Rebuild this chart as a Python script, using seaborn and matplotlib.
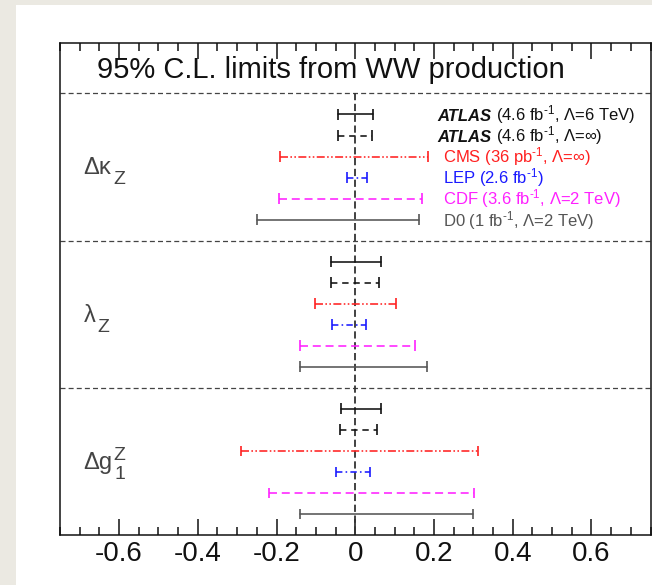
import numpy as np
import pandas as pd
import matplotlib
matplotlib.use("Agg")
import matplotlib.pyplot as plt
import matplotlib.patches as mpatches
from matplotlib.transforms import IdentityTransform
from matplotlib.ticker import FixedLocator, MultipleLocator
import seaborn as sns

# ---- data ----
param_main = ['Δκ', 'λ', 'Δg']
param_sub = ['Z', 'Z', '1']
param_sup = ['', '', 'Z']
sources = ['ATLAS6', 'ATLASinf', 'CMS', 'LEP', 'CDF', 'D0']
legend_bold = ['ATLAS', 'ATLAS', '', '', '', '']
legend_rest = [r'(4.6 fb$^{\text{-1}}$, Λ=6 TeV)', r'(4.6 fb$^{\text{-1}}$, Λ=∞)',
               r'CMS (36 pb$^{\text{-1}}$, Λ=∞)', r'LEP (2.6 fb$^{\text{-1}}$)',
               r'CDF (3.6 fb$^{\text{-1}}$, Λ=2 TeV)', r'D0 (1 fb$^{\text{-1}}$, Λ=2 TeV)']

dkz_lo = [-0.043, -0.045, -0.191, -0.022, -0.193, -0.250]
dkz_hi = [0.046, 0.043, 0.185, 0.031, 0.170, 0.163]
lz_lo = [-0.062, -0.062, -0.103, -0.058, -0.140, -0.140]
lz_hi = [0.065, 0.061, 0.103, 0.027, 0.152, 0.181]
dg1z_lo = [-0.035, -0.039, -0.289, -0.050, -0.219, -0.140]
dg1z_hi = [0.065, 0.054, 0.311, 0.037, 0.301, 0.300]

xtick_vals = [-0.6, -0.4, -0.2, 0, 0.2, 0.4, 0.6]
xtick_labels = ['-0.6', '-0.4', '-0.2', '0', '0.2', '0.4', '0.6']

colors = ['#111111', '#111111', '#ff2020', '#1a1aff', '#ff20ff', '#555555']
text_colors = ['#111111', '#111111', '#ff2020', '#1a1aff', '#ff20ff', '#555555']
dash_styles = ['', (4, 3), (5, 1.5, 1, 1.5, 1, 1.5), (4, 2, 1, 2), (5, 3), '']

# ---- layout in y units (rows are 1 unit apart) ----
title_h = 2.4
sec_h = 7.0
ymax = title_h + 3 * sec_h

rows = []
for k, (lo, hi) in enumerate([(dkz_lo, dkz_hi), (lz_lo, lz_hi), (dg1z_lo, dg1z_hi)]):
    for i, src in enumerate(sources):
        y = title_h + k * sec_h + (i + 1)
        rows.append(dict(id=f'{k}_{i}', source=src, x=lo[i], y=y))
        rows.append(dict(id=f'{k}_{i}', source=src, x=hi[i], y=y))
df = pd.DataFrame(rows)

sns.set_theme(style='ticks')
plt.rcParams['font.family'] = ['Liberation Sans', 'DejaVu Sans']
plt.rcParams['mathtext.fontset'] = 'custom'
plt.rcParams['mathtext.rm'] = 'Liberation Sans'
plt.rcParams['mathtext.it'] = 'Liberation Sans'
plt.rcParams['mathtext.bf'] = 'Liberation Sans:bold'

fig = plt.figure(figsize=(6.52, 5.85), dpi=100, facecolor='#ebe9e2')
fig.patches.append(mpatches.Rectangle((16 / 652, 0), 1, 580 / 585, transform=fig.transFigure,
                                      facecolor='white', edgecolor='none', zorder=-5))
ax = fig.add_axes([60 / 652, 50 / 585, 590.5 / 652, 492 / 585])
ax.set_zorder(2)
ax.set_facecolor('white')

pal = dict(zip(sources, colors))
dashes = dict(zip(sources, dash_styles))
sns.lineplot(data=df, x='x', y='y', hue='source', style='source', units='id',
             estimator=None, sort=False, palette=pal, dashes=dashes,
             linewidth=1.15, legend=False, ax=ax)
sns.scatterplot(data=df, x='x', y='y', hue='source', palette=pal, marker='|',
                s=60, linewidth=1.2, legend=False, ax=ax, zorder=3)

ax.set_xlim(-0.75, 0.75)
ax.set_ylim(ymax, 0)

# separators and zero line
for yd in [title_h, title_h + sec_h, title_h + 2 * sec_h]:
    ax.axhline(yd, color='#444444', lw=0.9, dashes=(4, 2.5), zorder=1)
ax.plot([0, 0], [title_h, ymax], color='#333333', lw=1.3, dashes=(4, 2), zorder=1)

ax.text(-0.656, 1.3, '95% C.L. limits from WW production', fontsize=21,
        va='center', ha='left', color='#111111')

fig.canvas.draw()

# parameter labels with larger sub/superscripts (pixel offsets)
for k in range(3):
    yb = title_h + k * sec_h + 3.5 + 0.35
    t = ax.text(-0.69, yb, param_main[k], fontsize=17, color='#444444',
                va='baseline', ha='left')
    fig.canvas.draw()
    bb = t.get_window_extent()
    base_px = ax.transData.transform((0, yb))[1]
    if param_sub[k]:
        ax.text(bb.x1 + 2, base_px - 10, param_sub[k], fontsize=14, color='#444444',
                va='baseline', ha='left', transform=IdentityTransform())
    if param_sup[k]:
        ax.text(bb.x1 + 1, base_px + 9, param_sup[k], fontsize=14, color='#444444',
                va='baseline', ha='left', transform=IdentityTransform())

# legend text in first block
for i in range(len(sources)):
    yb = title_h + (i + 1) + 0.3
    if legend_bold[i]:
        t1 = ax.text(0.208, yb, legend_bold[i], fontsize=12, fontweight='bold',
                     fontstyle='italic', color=text_colors[i], va='baseline', ha='left')
        fig.canvas.draw()
        bb = t1.get_window_extent()
        xr = ax.transData.inverted().transform((bb.x1 + 5, bb.y0))[0]
        ax.text(xr, yb, legend_rest[i], fontsize=12, color=text_colors[i],
                va='baseline', ha='left')
    else:
        ax.text(0.223, yb, legend_rest[i], fontsize=12, color=text_colors[i],
                va='baseline', ha='left')

ax.set_xlabel('')
ax.set_ylabel('')
ax.set_yticks([])
ax.xaxis.set_major_locator(FixedLocator(xtick_vals))
ax.set_xticklabels(xtick_labels)
ax.xaxis.set_minor_locator(MultipleLocator(0.05))
ax.tick_params(axis='x', which='major', direction='in', top=True, bottom=True,
               length=11.5, width=1.1, labelsize=20, pad=4, color='#111111',
               labelcolor='#111111')
ax.tick_params(axis='x', which='minor', direction='in', top=True, bottom=True,
               length=5.8, width=1.1, color='#111111')
for sp in ax.spines.values():
    sp.set_visible(True)
    sp.set_linewidth(1.1)
    sp.set_color('#111111')

fig.savefig('out.png', dpi=100, facecolor=fig.get_facecolor())
